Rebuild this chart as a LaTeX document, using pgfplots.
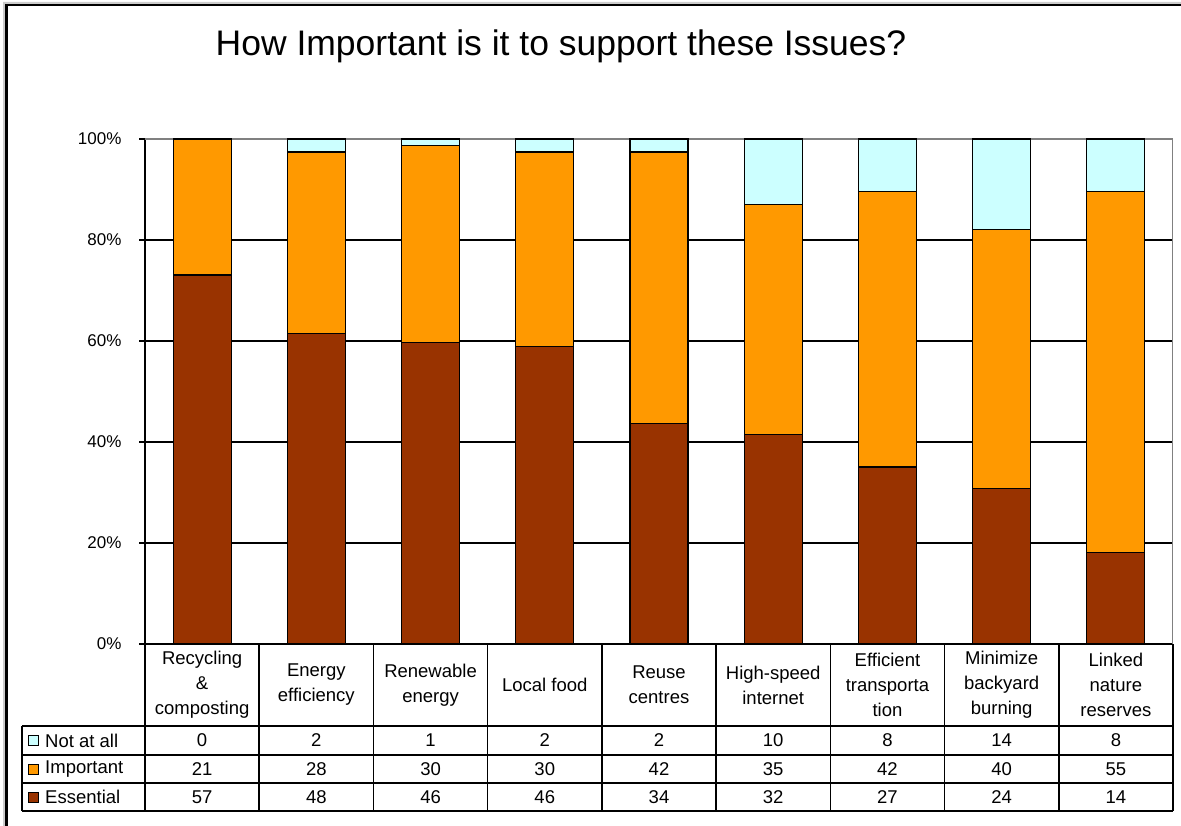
\documentclass[border=0pt]{standalone}
\usepackage{fontspec}
\setmainfont{Liberation Sans}
\usepackage{pgfplots}
\usepackage{pgfplotstable}
\pgfplotsset{compat=1.18}
\definecolor{ess}{HTML}{993300}
\definecolor{imp}{HTML}{FF9900}
\definecolor{nat}{HTML}{CCFFFF}

\pgfplotstableread{
x E I N
0 57 21 0
1 48 28 2
2 46 30 1
3 46 30 2
4 34 42 2
5 32 35 10
6 27 42 8
7 24 40 14
8 14 55 8
}\data

\begin{document}
\begin{tikzpicture}[x=1pt,y=1pt]
\useasboundingbox (0,0) rectangle (1181,825);
\fill[gray!40] (3,-20) -- (3,823) -- (1200,823) -- (1200,821) -- (5,821) -- (5,-20) -- cycle;
\draw[line width=2.5pt] (6.25,-20) -- (6.25,819.75) -- (1200,819.75);
\node[font=\fontsize{35.5}{40}\selectfont] at (561,779) {How Important is it to support these Issues?};
\begin{axis}[at={(145pt,181pt)}, anchor=south west, scale only axis,
  width=1028pt, height=505pt,
  ymin=0, ymax=100, xmin=-0.5, xmax=8.5,
  ybar stacked, bar width=58pt,
  ytick={0,20,40,60,80,100}, yticklabels={0\%,20\%,40\%,60\%,80\%,100\%},
  xtick=\empty,
  axis x line*=bottom, axis y line*=left,
  axis line style={-, line width=1.5pt, black},
  tick align=outside, major tick length=6pt,
  ytick style={black, line width=1.5pt},
  yticklabel style={font=\fontsize{17}{20}\selectfont, xshift=-14pt},
  ymajorgrids, major grid style={black, line width=1.5pt},
  enlargelimits=false,
]
\addplot[fill=ess, draw=black, line width=1.2pt] table[x=x, y expr=100*\thisrow{E}/(\thisrow{E}+\thisrow{I}+\thisrow{N})] {\data};
\addplot[fill=imp, draw=black, line width=1.2pt] table[x=x, y expr=100*\thisrow{I}/(\thisrow{E}+\thisrow{I}+\thisrow{N})] {\data};
\addplot[fill=nat, draw=black, line width=1.2pt] table[x=x, y expr=100*\thisrow{N}/(\thisrow{E}+\thisrow{I}+\thisrow{N})] {\data};
\draw[gray, line width=1.5pt] (rel axis cs:0,1) -- (rel axis cs:1,1) -- (rel axis cs:1,0);
\end{axis}
% data table
\def\colw{114.222}
\begin{scope}[line width=1.5pt]
\foreach \k in {0,...,9} {
  \draw (145+\k*\colw, 181) -- (145+\k*\colw, 14);
}
\foreach \yy in {99,70,42,14} {
  \draw (22,\yy) -- (1173,\yy);
}
\draw (22,99) -- (22,14);
\end{scope}
\foreach \lab [count=\k from 0] in {Recycling\\\&\\composting, Energy\\efficiency, Renewable\\energy, Local food, Reuse\\centres, High-speed\\internet, Efficient\\transporta\\tion, Minimize\\backyard\\burning, Linked\\nature\\reserves} {
  \node[align=center, font=\fontsize{18.5}{25}\selectfont] at (145+\k*\colw+0.5*\colw, 140) {\lab};
}
\foreach \k in {0,...,8} {
  \pgfplotstablegetelem{\k}{N}\of\data
  \node[font=\fontsize{18.5}{22}\selectfont] at (145+\k*\colw+0.5*\colw, 84.5) {\pgfplotsretval};
  \pgfplotstablegetelem{\k}{I}\of\data
  \node[font=\fontsize{18.5}{22}\selectfont] at (145+\k*\colw+0.5*\colw, 56) {\pgfplotsretval};
  \pgfplotstablegetelem{\k}{E}\of\data
  \node[font=\fontsize{18.5}{22}\selectfont] at (145+\k*\colw+0.5*\colw, 28) {\pgfplotsretval};
}
\foreach \yy/\col/\name in {84.5/nat/Not at all, 56/imp/Important, 28/ess/Essential} {
  \draw[fill=\col, line width=0.8pt] (28,\yy-5) rectangle (38,\yy+5);
  \node[anchor=west, font=\fontsize{18.5}{22}\selectfont, inner sep=0pt] at (45,\yy) {\name};
}
\end{tikzpicture}
\end{document}
